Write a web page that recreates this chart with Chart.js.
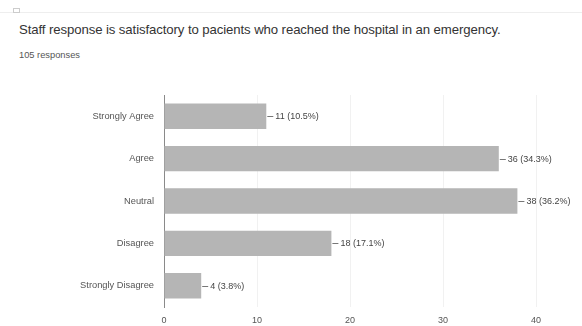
<!DOCTYPE html>
<html>
<head>
<meta charset="utf-8">
<script src="https://cdn.jsdelivr.net/npm/chart.js@4"></script>
<style>
  body { margin: 0; background: #fff; font-family: "Liberation Sans", Arial, sans-serif; }
  .wrap { position: relative; width: 582px; height: 326px; overflow: hidden; }
  .topline { position: absolute; left: 0; top: 12px; width: 582px; height: 1px; background: #eee; }
  .icon { position: absolute; left: 13px; top: 8px; width: 5px; height: 3px; border: 1px solid #ccc; }
  .title { position: absolute; left: 19px; top: 22px; font-size: 13.2px; color: #333; letter-spacing: -0.1px; }
  .sub { position: absolute; left: 19px; top: 50px; font-size: 9.3px; color: #555; }
  canvas { position: absolute; left: 0; top: 0; }
</style>
</head>
<body>
<div class="wrap">
  <div class="topline"></div>
  <div class="icon"></div>
  <div class="title">Staff response is satisfactory to pacients who reached the hospital in an emergency.</div>
  <div class="sub">105 responses</div>
  <canvas id="chart" width="582" height="326"></canvas>
</div>
<script>
// data
const answers = ["Strongly Agree", "Agree", "Neutral", "Disagree", "Strongly Disagree"];
const counts = [11, 36, 38, 18, 4];
const percents = ["10.5%", "34.3%", "36.2%", "17.1%", "3.8%"];
const xTicks = [0, 10, 20, 30, 40];

//-----------------------------------------------------------------------------
// little leader line + "n (p%)" at the end of each bar
//-----------------------------------------------------------------------------
const barLabels = {
    id: "barLabels",
    afterDatasetsDraw(chart) {
        const ctx = chart.ctx;
        const meta = chart.getDatasetMeta(0);
        ctx.save();
        ctx.font = "9px 'Liberation Sans', Arial, sans-serif";
        ctx.fillStyle = "#444";
        ctx.strokeStyle = "#777";
        ctx.lineWidth = 1;
        ctx.textBaseline = "middle";
        meta.data.forEach((bar, i) => {
            const y = Math.round(bar.y) + 0.5;
            ctx.beginPath();
            ctx.moveTo(bar.x + 1, y);
            ctx.lineTo(bar.x + 7, y);
            ctx.stroke();
            ctx.fillText(`${counts[i]} (${percents[i]})`, bar.x + 9, y);
        });
        ctx.restore();
    }
};

const ctx = document.getElementById("chart").getContext("2d");
new Chart(ctx, {
    type: "bar",
    data: {
        labels: answers,
        datasets: [{
            data: counts,
            backgroundColor: "#b5b5b5",
            borderWidth: 0,
            barPercentage: 0.6,
            categoryPercentage: 1
        }]
    },
    options: {
        indexAxis: "y",
        responsive: false,
        animation: false,
        layout: { padding: { top: 95, right: 46, left: 0, bottom: 0 } },
        plugins: {
            legend: { display: false },
            tooltip: { enabled: false }
        },
        scales: {
            x: {
                min: 0,
                max: 40,
                afterBuildTicks: axis => { axis.ticks = xTicks.map(v => ({ value: v })); },
                afterFit: axis => { axis.height = 19; },
                grid: {
                    color: "#f1f1f1",
                    drawTicks: false
                },
                border: { display: false },
                ticks: {
                    color: "#555",
                    padding: 8,
                    font: { size: 9, family: "'Liberation Sans', Arial, sans-serif" }
                }
            },
            y: {
                afterFit: axis => { axis.width = 164; },
                grid: { display: false, drawTicks: false },
                border: { color: "#8a8a8a", width: 1 },
                ticks: {
                    color: "#555",
                    padding: 10,
                    font: { size: 9.3, family: "'Liberation Sans', Arial, sans-serif" }
                }
            }
        }
    },
    plugins: [barLabels]
});
</script>
</body>
</html>
